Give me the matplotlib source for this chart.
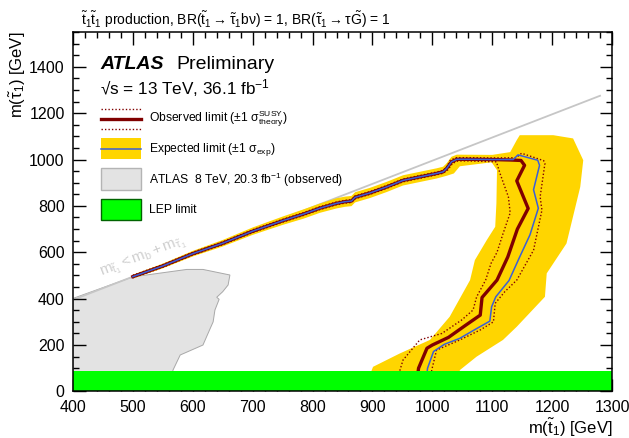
import matplotlib
matplotlib.use("Agg")
import matplotlib.pyplot as plt
from matplotlib.patches import Rectangle
from matplotlib.ticker import MultipleLocator

plt.rcParams['font.family'] = ['Liberation Sans', 'DejaVu Sans']
plt.rcParams['mathtext.fontset'] = 'custom'
plt.rcParams['mathtext.rm'] = 'Liberation Sans'
plt.rcParams['mathtext.it'] = 'Liberation Sans:italic'
plt.rcParams['mathtext.bf'] = 'Liberation Sans:bold'
plt.rcParams['mathtext.default'] = 'regular'

# observed limit contour (stop mass, stau mass) in GeV
obs_x = [500, 550, 600, 650, 700, 750, 785, 812, 840, 854, 865, 871, 896, 924, 951, 979,
         1007, 1018, 1024, 1032, 1041, 1060, 1100, 1130, 1148, 1154, 1141, 1160, 1142,
         1126, 1108, 1083, 1080, 1056, 1027, 1000, 991, 977, 972]
obs_y = [495, 541, 594, 639, 691, 736, 765, 790, 811, 818, 821, 837, 856, 882, 910, 925,
         940, 947, 962, 990, 1001, 1001, 1000, 998, 996, 975, 908, 789, 700,
         580, 480, 405, 329, 286, 233, 200, 186, 100, 0]

# expected limit contour
exp_x = [500, 550, 600, 650, 700, 750, 785, 812, 840, 854, 865, 871, 896, 924, 951, 979,
         1007, 1018, 1024, 1032, 1041, 1060, 1100, 1135, 1143, 1176, 1179, 1169, 1177,
         1163, 1145, 1128, 1106, 1099, 1096, 1072, 1046, 1020, 1002, 992, 988]
exp_y = [495, 541, 594, 639, 691, 736, 765, 790, 811, 818, 821, 837, 856, 882, 910, 925,
         940, 947, 962, 990, 1001, 1001, 1000, 1000, 1020, 997, 975, 870, 790,
         675, 575, 478, 408, 365, 303, 268, 229, 203, 172, 100, 0]

# observed limit shifted by +/-1 sigma theory
th_up_x = [500, 550, 600, 650, 700, 750, 785, 812, 840, 854, 865, 871, 896, 924, 951, 979,
           1007, 1018, 1024, 1030, 1040, 1060, 1100, 1140, 1149, 1186, 1188, 1180, 1183,
           1169, 1141, 1121, 1105, 1102, 1080, 1046, 1007, 999, 996]
th_up_y = [501, 547, 600, 645, 697, 742, 771, 796, 817, 824, 827, 843, 862, 888, 916, 931,
           946, 953, 968, 997, 1008, 1008, 1007, 1008, 1027, 995, 983, 839, 782,
           609, 480, 430, 380, 300, 265, 222, 178, 92, 0]
th_dn_x = [500, 550, 600, 650, 700, 750, 785, 812, 840, 854, 865, 871, 896, 924, 951, 979,
           1007, 1018, 1026, 1034, 1043, 1060, 1107, 1113, 1127, 1130, 1118, 1108, 1098,
           1089, 1074, 1068, 1049, 1016, 979, 951, 946, 942]
th_dn_y = [490, 535, 588, 633, 685, 730, 759, 784, 805, 812, 815, 831, 850, 876, 904, 919,
           934, 941, 956, 984, 994, 994, 990, 940, 839, 770, 680, 600, 552,
           480, 408, 351, 308, 250, 222, 135, 92, 0]

# expected limit +/-1 sigma band outline
band_x = [500, 550, 600, 650, 700, 750, 785, 812, 840, 854, 865, 871, 896, 924, 951, 979,
          1007, 1018, 1024, 1032, 1041, 1100, 1130, 1141, 1146, 1202, 1235, 1252, 1247,
          1224, 1191, 1188, 1141, 1118, 1074, 1046, 1040, 885, 901, 946, 996, 1029, 1063,
          1071, 1091, 1105, 1107, 1108, 1099, 1046, 1036, 1024, 1007, 979, 951, 924, 896,
          871, 865, 854, 840, 812, 785, 750, 700, 650, 600, 550, 500]
band_y = [503, 551, 606, 653, 707, 754, 785, 810, 833, 840, 843, 859, 878, 904, 932, 947,
          962, 969, 984, 1012, 1021, 1020, 1032, 1084, 1105, 1105, 1091, 997, 882,
          638, 509, 408, 279, 222, 150, 92, 0, 0, 106, 164, 222, 322, 480,
          566, 653, 710, 811, 954, 988, 971, 940, 930, 918, 903, 888, 860, 834,
          815, 799, 796, 789, 770, 745, 718, 675, 625, 582, 531, 487]

# ATLAS 8 TeV observed exclusion
atlas8_x = [400, 400, 500, 590, 617, 662, 659, 650, 640, 644, 637, 634, 628, 617, 579, 567, 560]
atlas8_y = [0, 401, 494, 526, 526, 502, 459, 430, 406, 397, 351, 300, 265, 200, 157, 92, 0]

# kinematic boundary m(stop) = m(b) + m(stau)
kin_x = [400, 1280]
kin_y = [395, 1275]

lep_limit = 90

fig = plt.figure(figsize=(6.29, 4.38), dpi=100)
ax = fig.add_axes([73 / 629, 46.6 / 438, 539 / 629, 359.4 / 438])

ax.fill(atlas8_x, atlas8_y, facecolor='#e3e3e3', edgecolor='#a8a8a8', lw=0.7, zorder=1)
ax.plot(kin_x, kin_y, color='#c6c6c6', lw=1.3, zorder=1.5)
ax.fill(band_x, band_y, color='#ffd500', lw=0, zorder=2)
ax.plot(th_up_x, th_up_y, color='#800000', lw=1.0, ls=(0, (1, 1.5)), zorder=3)
ax.plot(th_dn_x, th_dn_y, color='#800000', lw=1.0, ls=(0, (1, 1.5)), zorder=3)
ax.plot(obs_x, obs_y, color='#800000', lw=2.4, zorder=3.5)
ax.plot(exp_x, exp_y, color='#3a5fd8', lw=1.1, zorder=4)
ax.axhspan(0, lep_limit, color='#00ff00', lw=0, zorder=5)

ax.text(517, 578, r'$m_{\tilde{t}_1} < m_b + m_{\tilde{\tau}_1}$', rotation=21.2,
        color='#d0d0d0', fontsize=11, ha='center', va='center', zorder=1.6)

ax.set_xlim(400, 1300)
ax.set_ylim(0, 1550)
ax.xaxis.set_major_locator(MultipleLocator(100))
ax.xaxis.set_minor_locator(MultipleLocator(20))
ax.yaxis.set_major_locator(MultipleLocator(200))
ax.yaxis.set_minor_locator(MultipleLocator(50))
ax.tick_params(which='both', direction='in', top=True, right=True, width=1.0,
               labelsize=11.5, zorder=10)
ax.tick_params(which='major', length=9, pad=6)
ax.tick_params(which='minor', length=4.5)
for s in ax.spines.values():
    s.set_linewidth(1.1)
    s.set_zorder(10)

fig.text(612 / 629, 1 - 428 / 438, r'm($\tilde{t}_1$) [GeV]', fontsize=12,
         ha='right', va='center')
fig.text(18 / 629, 1 - 32 / 438, r'm($\tilde{\tau}_1$) [GeV]', fontsize=12,
         ha='center', va='top', rotation=90)
fig.text(81 / 629, 1 - 25 / 438,
         r'$\tilde{t}_1\tilde{t}_1$ production, BR($\tilde{t}_1 \rightarrow \tilde{\tau}_1 b\nu$) = 1, '
         r'BR($\tilde{\tau}_1 \rightarrow \tau\tilde{G}$) = 1', fontsize=10, va='baseline')

# labels and legend, placed in pixel units of the axes box
def fx(px):
    return (px - 73) / 539

def fy(py):
    return (391.4 - py) / 359.4

ax.text(fx(100), fy(69), 'ATLAS', transform=ax.transAxes, fontsize=14,
        fontweight='bold', fontstyle='italic', va='baseline')
ax.text(fx(176), fy(69), 'Preliminary', transform=ax.transAxes, fontsize=14, va='baseline')
ax.text(fx(100), fy(94), '√s = 13 TeV, 36.1 fb$^{-1}$', transform=ax.transAxes,
        fontsize=12.3, va='baseline')

x0, x1 = fx(101), fx(141)
for py in (109, 129):
    ax.plot([x0, x1], [fy(py), fy(py)], transform=ax.transAxes, color='#800000',
            lw=1.0, ls=(0, (1, 1.5)))
ax.plot([x0, x1], [fy(119), fy(119)], transform=ax.transAxes, color='#800000', lw=2.4)
ax.add_patch(Rectangle((x0, fy(159)), x1 - x0, fy(138) - fy(159), transform=ax.transAxes,
                       facecolor='#ffd500', lw=0))
ax.plot([x0, x1], [fy(149), fy(149)], transform=ax.transAxes, color='#3a5fd8', lw=1.1)
ax.add_patch(Rectangle((x0, fy(190)), x1 - x0, fy(168) - fy(190), transform=ax.transAxes,
                       facecolor='#e3e3e3', edgecolor='#b4b4b4', lw=1.0))
ax.add_patch(Rectangle((x0, fy(220)), x1 - x0, fy(199) - fy(220), transform=ax.transAxes,
                       facecolor='#00ff00', edgecolor='#006400', lw=1.0))

legend_labels = [
    r'Observed limit ($\pm$1 $\sigma^{SUSY}_{theory}$)',
    r'Expected limit ($\pm$1 $\sigma_{exp}$)',
    r'ATLAS  8 TeV, 20.3 fb$^{-1}$ (observed)',
    'LEP limit',
]
for label, py in zip(legend_labels, (119, 149, 180, 210)):
    ax.text(fx(149), fy(py), label, transform=ax.transAxes, fontsize=8.7, va='center')

fig.savefig('out.png', dpi=100)
